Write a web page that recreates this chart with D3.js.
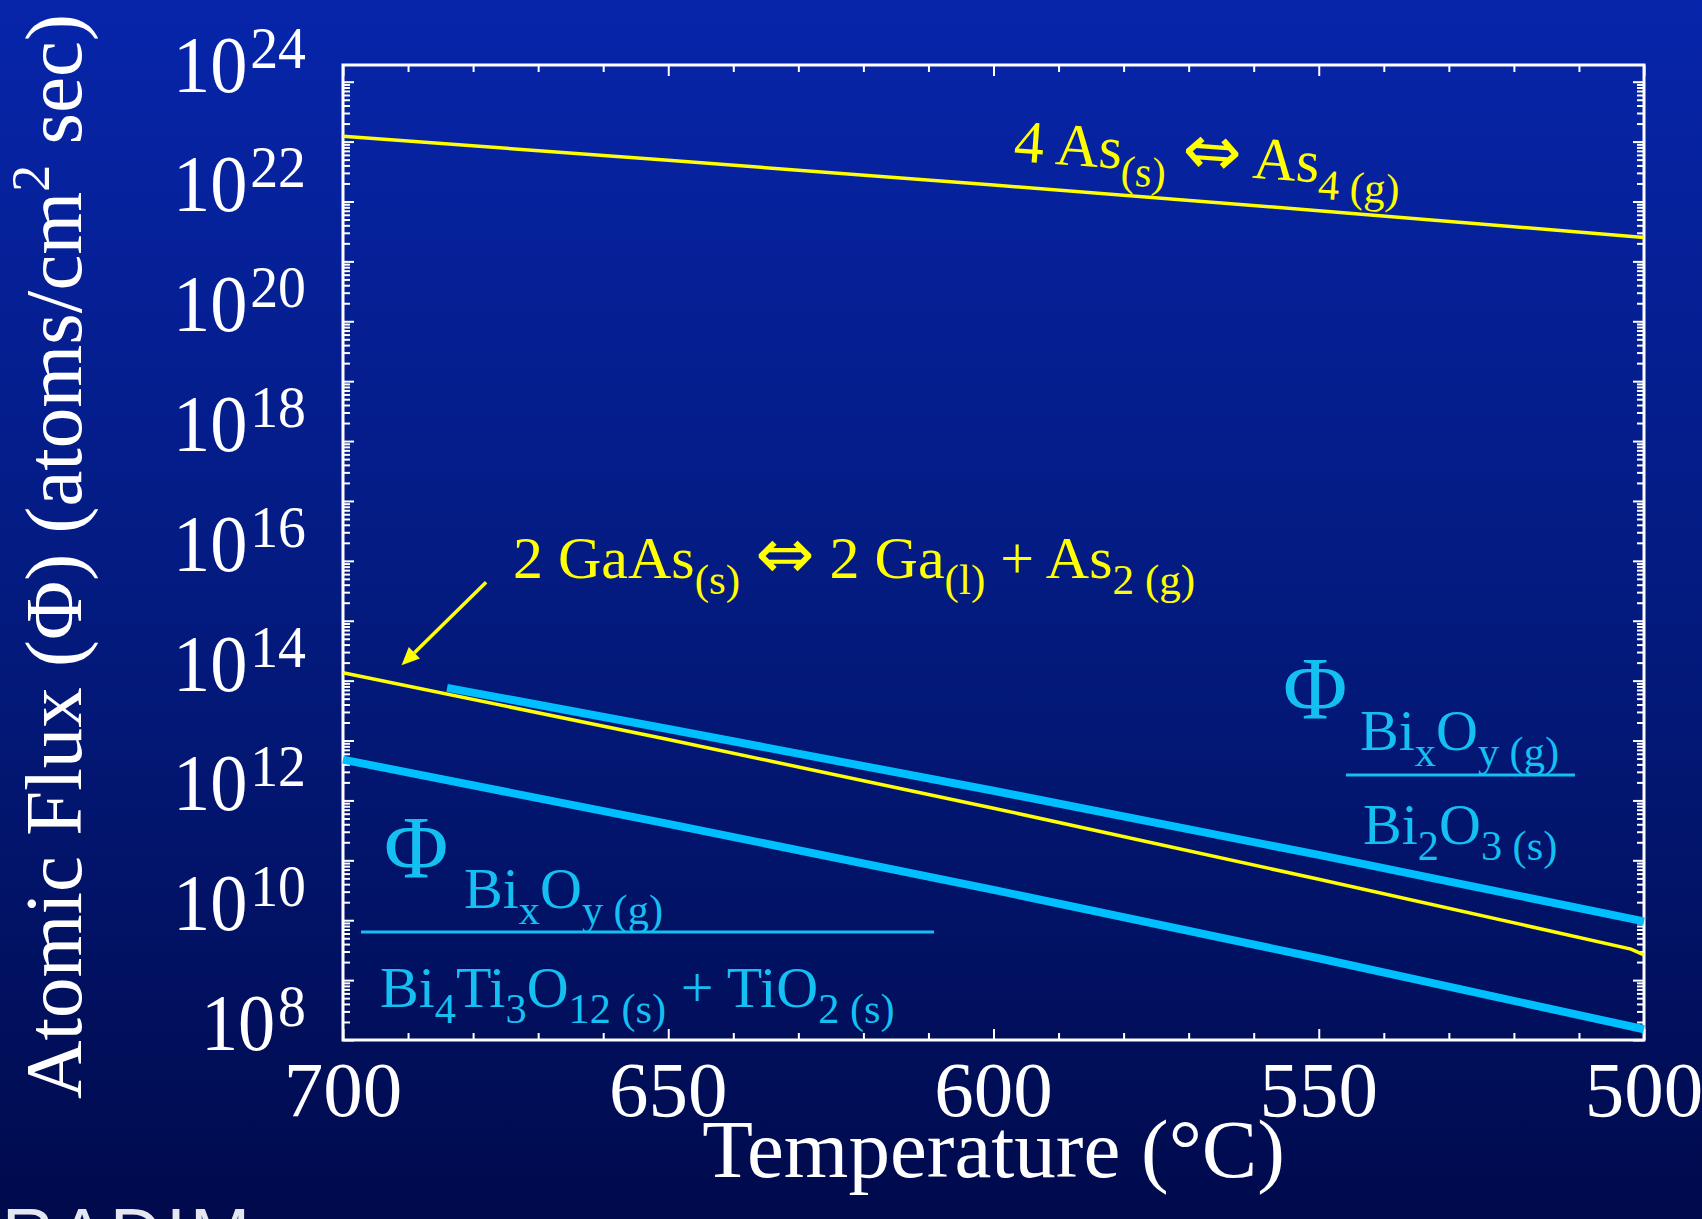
<!DOCTYPE html>
<html>
<head>
<meta charset="utf-8">
<script src="https://cdn.jsdelivr.net/npm/d3@7"></script>
<style>
  body { margin: 0; background: #000a4e; }
  text { font-family: "Liberation Serif", "Times New Roman", serif; white-space: pre; }
</style>
</head>
<body>
<div id="chart"></div>
<script>
// Data
const temps        = [700, 650, 600, 550, 500];            // °C
const as4Flux      = [1.23e23, 4.88e22, 1.88e22, 7.02e21, 2.51e21];
const gaasTemps    = [700, 650, 600, 550, 502, 500];
const gaasFlux     = [1.35e14, 1.04e13, 7.41e11, 4.83e10, 3.3e9, 2.63e9];
const bi2o3Temps   = [684, 650, 600, 550, 500];
const bi2o3Flux    = [7.59e13, 1.56e13, 1.45e12, 1.23e11, 9.55e9];
const bi4ti3Flux   = [4.79e12, 4.07e11, 3.21e10, 2.32e9, 1.51e8];

const xTickLabels  = [700, 650, 600, 550, 500];
const yLabelExps   = [24, 22, 20, 18, 16, 14, 12, 10, 8];

// Define Default constants
const config = {
  width       : 1702,
  height      : 1219,
  left        : 343,
  right       : 1644,
  top         : 65,
  bottom      : 1040,
  yellow      : "#ffff00",
  blue        : "#00bfff",
  blueText    : "#14c0f2",
  white       : "#ffffff",
};

const svg = d3.select("#chart")
  .append("svg")
    .attr("width", config.width)
    .attr("height", config.height);

// background gradient
const grad = svg.append("defs").append("linearGradient")
    .attr("id", "bg").attr("x1", 0).attr("y1", 0).attr("x2", 0).attr("y2", 1);
grad.append("stop").attr("offset", "0%").attr("stop-color", "#0725aa");
grad.append("stop").attr("offset", "55%").attr("stop-color", "#03197a");
grad.append("stop").attr("offset", "100%").attr("stop-color", "#000a4c");
svg.append("rect").attr("width", config.width).attr("height", config.height).attr("fill", "url(#bg)");

// scales
const x = d3.scaleLinear().domain([700, 500]).range([config.left, config.right]);
const y = d3.scaleLog().domain([1e8, 1.9e24]).range([config.bottom, config.top]);

// ticks
const decades = d3.range(8, 25).map(e => Math.pow(10, e));
const minorY = [];
d3.range(8, 24).forEach(e => { for (let m = 2; m <= 9; m++) minorY.push(m * Math.pow(10, e)); });
const majorX = d3.range(500, 701, 50);
const minorX = d3.range(500, 701, 10).filter(v => v % 50 !== 0);

function tickAxis(axis, pos, values, size) {
  const g = svg.append("g")
      .attr("transform", pos)
      .call(axis.tickValues(values).tickSizeInner(-size).tickSizeOuter(0).tickFormat(""));
  g.select(".domain").remove();
  g.selectAll(".tick line").attr("stroke", config.white).attr("stroke-width", 2);
}
tickAxis(d3.axisLeft(y),  `translate(${config.left},0)`,  decades, 11);
tickAxis(d3.axisLeft(y),  `translate(${config.left},0)`,  minorY, 7);
tickAxis(d3.axisRight(y), `translate(${config.right},0)`, decades, 11);
tickAxis(d3.axisRight(y), `translate(${config.right},0)`, minorY, 7);
tickAxis(d3.axisBottom(x), `translate(0,${config.bottom})`, majorX, 11);
tickAxis(d3.axisBottom(x), `translate(0,${config.bottom})`, minorX, 7);
tickAxis(d3.axisTop(x),    `translate(0,${config.top})`,    majorX, 11);
tickAxis(d3.axisTop(x),    `translate(0,${config.top})`,    minorX, 7);

// frame
svg.append("rect")
  .attr("x", config.left).attr("y", config.top)
  .attr("width", config.right - config.left).attr("height", config.bottom - config.top)
  .attr("fill", "none").attr("stroke", config.white).attr("stroke-width", 3);

// y tick labels (10^n)
yLabelExps.forEach(function(e) {
  const t = svg.append("g")
      .attr("transform", `translate(306,${y(Math.pow(10, e)) + 10}) scale(0.93,1)`)
    .append("text")
      .attr("text-anchor", "end")
      .attr("fill", config.white)
      .attr("font-size", 80);
  t.append("tspan").text("10");
  t.append("tspan").attr("dy", -24).attr("dx", 3).attr("font-size", 60).text(e);
});

// x tick labels
svg.selectAll(".xlab")
  .data(xTickLabels)
  .enter()
  .append("text")
    .attr("class", "xlab")
    .attr("x", d => x(d))
    .attr("y", 1116)
    .attr("text-anchor", "middle")
    .attr("fill", config.white)
    .attr("font-size", 79)
    .text(d => d);

// axis titles
svg.append("text")
  .attr("x", x(600)).attr("y", 1177)
  .attr("text-anchor", "middle")
  .attr("fill", config.white)
  .attr("font-size", 83)
  .text("Temperature (°C)");

const ytitle = svg.append("text")
  .attr("transform", `translate(81,${(config.top + config.bottom) / 2 + 4}) rotate(-90)`)
  .attr("text-anchor", "middle")
  .attr("fill", config.white)
  .attr("font-size", 81);
ytitle.append("tspan").text("Atomic Flux (Φ) (atoms/cm");
ytitle.append("tspan").attr("dy", -32).attr("font-size", 54).text("2");
ytitle.append("tspan").attr("dy", 32).text(" sec)");

// data lines
const line = d3.line().x(d => x(d[0])).y(d => y(d[1]));

svg.append("path")
  .datum(d3.zip(bi2o3Temps, bi2o3Flux))
  .attr("d", line)
  .attr("fill", "none").attr("stroke", config.blue).attr("stroke-width", 8);

svg.append("path")
  .datum(d3.zip(temps, bi4ti3Flux))
  .attr("d", line)
  .attr("fill", "none").attr("stroke", config.blue).attr("stroke-width", 8);

svg.append("path")
  .datum(d3.zip(temps, as4Flux))
  .attr("d", line)
  .attr("fill", "none").attr("stroke", config.yellow).attr("stroke-width", 3.5);

svg.append("path")
  .datum(d3.zip(gaasTemps, gaasFlux))
  .attr("d", line)
  .attr("fill", "none").attr("stroke", config.yellow).attr("stroke-width", 3.5);

// rich text helper: parts = [[string, "sub"|"sup"|"arrow"|undefined], ...]
function richText(px, py, parts, size, color, rot, subScale) {
  const t = svg.append("text")
      .attr("transform", `translate(${px},${py}) rotate(${rot || 0})`)
      .attr("fill", color)
      .attr("font-size", size);
  let shift = 0;
  parts.forEach(function(p) {
    const kind = p[1];
    const target = kind === "sub" ? size * 0.27 : kind === "sup" ? -size * 0.38 : 0;
    const ts = t.append("tspan")
      .attr("dy", target - shift)
      .attr("font-size", (kind === "sub" || kind === "sup") ? size * (subScale || 0.68) : size)
      .text(p[0]);
    if (kind === "arrow") ts.style("font-family", "'DejaVu Sans', sans-serif").attr("font-size", size * 1.18);
    shift = target;
  });
  return t;
}

// reaction labels
richText(1013, 161, [["4 As"], ["(s)", "sub"], [" "], ["⇔", "arrow"], [" As"], ["4 (g)", "sub"]], 60, config.yellow, 4, 0.71);
richText(513, 578, [["2 GaAs"], ["(s)", "sub"], [" "], ["⇔", "arrow"], [" 2 Ga"], ["(l)", "sub"], [" + As"], ["2 (g)", "sub"]], 60, config.yellow, 0, 0.72);

// arrow to GaAs line
const arrowFrom = [678, 4.4e15], arrowTo = [691, 1.8e14];
const ax0 = x(arrowFrom[0]), ay0 = y(arrowFrom[1]), ax1 = x(arrowTo[0]), ay1 = y(arrowTo[1]);
const ang = Math.atan2(ay1 - ay0, ax1 - ax0);
const headLen = 18, headW = 8;
const bx = ax1 - headLen * Math.cos(ang), by = ay1 - headLen * Math.sin(ang);
svg.append("line")
  .attr("x1", ax0).attr("y1", ay0).attr("x2", bx).attr("y2", by)
  .attr("stroke", config.yellow).attr("stroke-width", 3.5);
svg.append("path")
  .attr("d", `M${ax1},${ay1}L${bx + headW * Math.sin(ang)},${by - headW * Math.cos(ang)}L${bx - headW * Math.sin(ang)},${by + headW * Math.cos(ang)}Z`)
  .attr("fill", config.yellow);

// flux ratio labels
function ratioLabel(phiX, phiY, numX, numY, numParts, lineX1, lineX2, lineY, denX, denY, denParts) {
  svg.append("text").attr("x", phiX).attr("y", phiY)
    .attr("fill", config.blueText).attr("font-size", 88).text("Φ");
  richText(numX, numY, numParts, 58, config.blueText, 0, 0.73);
  svg.append("line")
    .attr("x1", lineX1).attr("x2", lineX2).attr("y1", lineY).attr("y2", lineY)
    .attr("stroke", config.blueText).attr("stroke-width", 3);
  richText(denX, denY, denParts, 58, config.blueText, 0, 0.73);
}

const bixoy = [["Bi"], ["x", "sub"], ["O"], ["y (g)", "sub"]];
ratioLabel(1283, 718, 1360, 750, bixoy, 1346, 1575, 775, 1363, 844,
  [["Bi"], ["2", "sub"], ["O"], ["3 (s)", "sub"]]);
ratioLabel(384, 877, 464, 908, bixoy, 361, 934, 932, 380, 1007,
  [["Bi"], ["4", "sub"], ["Ti"], ["3", "sub"], ["O"], ["12 (s)", "sub"], [" + TiO"], ["2 (s)", "sub"]]);

// logo fragment at bottom left
svg.append("text")
  .attr("x", 2).attr("y", 1259)
  .attr("fill", "#e4e6f0")
  .style("font-family", "'Liberation Sans', Arial, sans-serif")
  .attr("font-size", 72)
  .attr("letter-spacing", 4)
  .text("RADIM");
</script>
</body>
</html>
